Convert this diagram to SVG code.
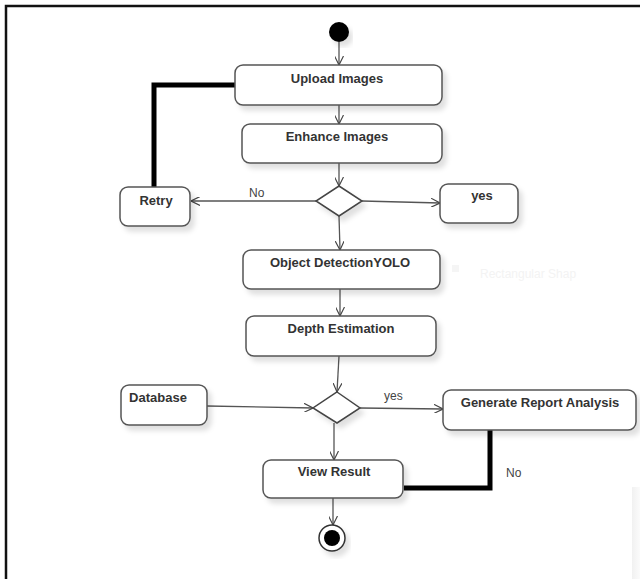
<svg xmlns="http://www.w3.org/2000/svg" width="640" height="579" viewBox="0 0 640 579">
<style>
.box{fill:#fff;stroke:#555;stroke-width:1.5}
.dia{fill:#fff;stroke:#444;stroke-width:1.5}
.lbl{font-family:"Liberation Sans",Arial,sans-serif;font-size:13px;font-weight:bold;fill:#333;text-anchor:middle}
.edge{font-family:"Liberation Sans",Arial,sans-serif;font-size:12px;fill:#444}
.ln{stroke:#555;stroke-width:1.3;fill:none}
.thick{stroke:#000;stroke-width:5;fill:none}
</style>
<defs>
<marker id="arr" viewBox="0 0 10 10" refX="10" refY="5" markerWidth="9" markerHeight="9" markerUnits="userSpaceOnUse" orient="auto">
<path d="M0,0 L10,5 L0,10" fill="none" stroke="#444" stroke-width="1.3"/>
</marker>
<filter id="sh" x="-10%" y="-10%" width="130%" height="140%">
<feDropShadow dx="4" dy="5" stdDeviation="2.5" flood-color="#000" flood-opacity="0.12"/>
</filter>
<linearGradient id="pan" x1="0" x2="1" y1="0" y2="0">
<stop offset="0" stop-color="#f1f1f1"/><stop offset="1" stop-color="#fbfbfb"/>
</linearGradient>
</defs>
<rect width="640" height="579" fill="#fff"/>
<!-- frame -->
<path d="M6,579 L6,6 L640,6" fill="none" stroke="#111" stroke-width="2.5"/>
<!-- ghost artifacts -->
<rect x="632" y="487" width="8" height="92" fill="url(#pan)"/>
<rect x="452" y="265" width="7" height="7" fill="#f5f5f5"/>
<text x="480" y="278" font-family="Liberation Sans,Arial,sans-serif" font-size="12" fill="#f3f3f3">Rectangular Shap</text>

<g id="connectors">
<line class="ln" x1="339" y1="42" x2="339" y2="65" marker-end="url(#arr)"/>
<line class="ln" x1="339" y1="105" x2="339" y2="124" marker-end="url(#arr)"/>
<line class="ln" x1="339" y1="163" x2="339" y2="186" marker-end="url(#arr)"/>
<line class="ln" x1="316" y1="201" x2="191" y2="201" marker-end="url(#arr)"/>
<line class="ln" x1="362" y1="201" x2="440" y2="203" marker-end="url(#arr)"/>
<line class="ln" x1="339" y1="216" x2="340" y2="250" marker-end="url(#arr)"/>
<line class="ln" x1="340" y1="289" x2="340" y2="316" marker-end="url(#arr)"/>
<line class="ln" x1="339" y1="356" x2="337" y2="392" marker-end="url(#arr)"/>
<line class="ln" x1="207" y1="406" x2="313" y2="408" marker-end="url(#arr)"/>
<line class="ln" x1="360" y1="408" x2="443" y2="409" marker-end="url(#arr)"/>
<line class="ln" x1="334" y1="423" x2="334" y2="460" marker-end="url(#arr)"/>
<line class="ln" x1="333" y1="498" x2="333" y2="525" marker-end="url(#arr)"/>
<path class="thick" d="M236,85 L154,85 L154,188"/>
<path class="thick" d="M490,427 L490,488 L404,488"/>
<text class="edge" x="249" y="197">No</text>
<text class="edge" x="384" y="400">yes</text>
<text class="edge" x="506" y="477">No</text>
</g>

<g id="start"><circle cx="339" cy="32" r="10" fill="#000" filter="url(#sh)"/></g>

<g id="upload"><rect class="box" x="235" y="65" width="207" height="40" rx="8" filter="url(#sh)"/><text class="lbl" x="337" y="83">Upload Images</text></g>
<g id="enhance"><rect class="box" x="242" y="124" width="200" height="39" rx="8" filter="url(#sh)"/><text class="lbl" x="337" y="141">Enhance Images</text></g>
<g id="decision1"><polygon class="dia" points="339,186 362,201 339,216 316,201" filter="url(#sh)"/></g>
<g id="retry"><rect class="box" x="120" y="187" width="70" height="39" rx="8" filter="url(#sh)"/><text class="lbl" x="156" y="205">Retry</text></g>
<g id="yes"><rect class="box" x="440" y="184" width="78" height="39" rx="8" filter="url(#sh)"/><text class="lbl" x="482" y="200">yes</text></g>
<g id="detect"><rect class="box" x="243" y="250" width="197" height="39" rx="8" filter="url(#sh)"/><text class="lbl" x="340" y="267">Object DetectionYOLO</text></g>
<g id="depth"><rect class="box" x="246" y="316" width="190" height="40" rx="8" filter="url(#sh)"/><text class="lbl" x="341" y="333">Depth Estimation</text></g>
<g id="decision2"><polygon class="dia" points="337,392 360,408 337,423 313,408" filter="url(#sh)"/></g>
<g id="database"><rect class="box" x="121" y="385" width="86" height="40" rx="8" filter="url(#sh)"/><text class="lbl" x="158" y="402">Database</text></g>
<g id="report"><rect class="box" x="443" y="390" width="193" height="40" rx="8" filter="url(#sh)"/><text class="lbl" x="540" y="407">Generate Report Analysis</text></g>
<g id="view"><rect class="box" x="263" y="460" width="140" height="38" rx="8" filter="url(#sh)"/><text class="lbl" x="334" y="476">View Result</text></g>
<g id="end"><circle cx="332" cy="538" r="13" fill="#fff" stroke="#333" stroke-width="1.5" filter="url(#sh)"/><circle cx="332" cy="538" r="8" fill="#000"/></g>
</svg>
